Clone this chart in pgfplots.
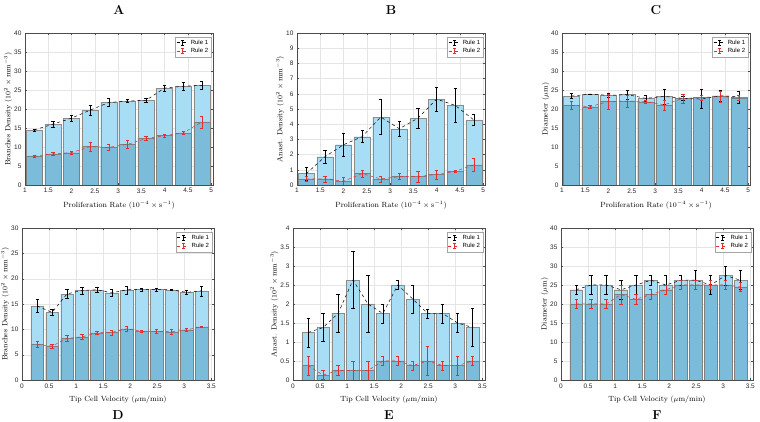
\documentclass[border=0pt]{standalone}
\usepackage{fontspec}
\usepackage{pgfplots}
\usepackage{pgfplotstable}
\pgfplotsset{compat=1.18}
\newfontfamily\ticksf{Liberation Sans}
\definecolor{barlight}{RGB}{168,222,245}
\definecolor{bardark}{RGB}{122,188,218}
\definecolor{ruletwo}{RGB}{228,45,45}

% x  r1  e1  r2  e2
\pgfplotstableread{
x   a     ea    b     eb
1.2 14.5  0.3   7.6   0.3
1.6 16.0  0.8   8.2   0.5
2.0 17.6  0.8   8.5   0.5
2.4 19.7  1.3   10.1  1.1
2.8 21.7  1.0   9.9   0.7
3.2 22.1  0.4   10.7  1.1
3.6 22.3  0.4   12.2  0.5
4.0 25.5  0.7   13.0  0.4
4.4 26.0  1.0   13.7  0.4
4.8 26.2  1.0   16.6  1.6
}\tA
\pgfplotstableread{
x   a     ea    b     eb
1.2 0.75  0.45  0.40  0.15
1.6 1.86  0.40  0.40  0.20
2.0 2.65  0.75  0.25  0.25
2.4 3.18  0.40  0.75  0.25
2.8 4.47  1.15  0.40  0.20
3.2 3.70  0.50  0.55  0.20
3.6 4.40  0.68  0.55  0.35
4.0 5.65  0.80  0.70  0.30
4.4 5.24  1.10  0.90  0.07
4.8 4.28  0.38  1.33  0.45
}\tB
\pgfplotstableread{
x   a     ea    b     eb
1.2 23.4  0.7   21.0  1.0
1.6 23.9  0.1   20.6  0.5
2.0 23.6  0.6   22.0  2.0
2.4 23.8  1.2   22.1  1.6
2.8 22.8  0.7   21.9  0.3
3.2 23.3  2.0   21.1  1.3
3.6 22.8  0.6   22.8  1.2
4.0 22.6  2.5   23.0  0.6
4.4 23.5  1.5   23.3  1.5
4.8 23.2  1.6   22.9  0.6
}\tC
\pgfplotstableread{
x     a     ea    b     eb
0.280 14.6  1.3   7.0   0.6
0.556 13.35 0.6   6.7   0.4
0.833 17.0  0.9   8.2   0.6
1.109 17.67 0.7   8.5   0.5
1.386 17.8  0.55  9.3   0.3
1.662 17.2  0.65  9.4   0.5
1.938 17.8  0.8   10.1  0.5
2.215 17.9  0.3   9.6   0.2
2.491 17.9  0.3   9.6   0.4
2.768 17.8  0.15  9.5   0.5
3.044 17.3  0.35  9.9   0.3
3.320 17.6  1.0   10.5  0.15
}\tD
\pgfplotstableread{
x     a     ea    b     eb
0.280 1.25  0.38  0.38  0.25
0.556 1.38  0.37  0.13  0.12
0.833 1.75  0.50  0.25  0.13
1.109 2.63  0.75  0.25  0.25
1.386 2.00  0.75  0.25  0.25
1.662 1.75  0.25  0.50  0.12
1.938 2.50  0.12  0.50  0.12
2.215 2.13  0.37  0.38  0.12
2.491 1.75  0.12  0.50  0.38
2.768 1.75  0.25  0.38  0.12
3.044 1.50  0.25  0.38  0.25
3.320 1.38  0.50  0.50  0.12
}\tE
\pgfplotstableread{
x     a     ea    b     eb
0.280 23.75 1.25  20.0  1.25
0.556 25.0  2.5   20.0  1.25
0.833 25.0  2.5   20.0  1.25
1.109 23.75 2.5   22.5  2.5
1.386 25.0  2.5   21.25 1.25
1.662 26.25 1.25  22.5  1.25
1.938 25.0  2.5   23.75 1.25
2.215 26.25 1.25  25.0  1.25
2.491 26.25 2.5   25.0  1.25
2.768 25.0  2.5   25.0  1.25
3.044 27.5  2.5   25.0  1.25
3.320 26.25 2.5   24.5  1.25
}\tF

\pgfplotsset{
  panel/.style={
    scale only axis, height=152pt, ymin=0,
    grid=major, major grid style={black!10, line width=0.3pt},
    tick align=inside, major tick length=2pt,
    tick style={black!70, line width=0.3pt},
    axis line style={black!70, line width=0.4pt},
    tick label style={font=\ticksf\fontsize{6.5}{7}\selectfont, black!85},
    /pgf/number format/assume math mode=true,
    label style={font=\fontsize{7.5}{8}\selectfont},
    xlabel style={yshift=-1pt},
    ylabel style={yshift=-5pt},
    legend style={at={(0.99,0.975)}, anchor=north east, draw=black!35,
      fill=white, inner sep=0.8pt, row sep=-1.5pt,
      font=\ticksf\fontsize{6}{6.5}\selectfont},
    legend cell align=left,
    legend image code/.code={
      \draw[##1] (0pt,0pt) -- (12pt,0pt);
      \draw[##1,solid] (6pt,-2.5pt) -- (6pt,2.5pt)
        (4.8pt,-2.5pt) -- (7.2pt,-2.5pt) (4.8pt,2.5pt) -- (7.2pt,2.5pt);
    },
  },
  toprow/.style={panel, xmin=1, xmax=5.04, width=188pt,
    xtick={1,1.5,2,2.5,3,3.5,4,4.5,5},
    xlabel={Proliferation Rate ($10^{-4}\times\mathrm{s}^{-1}$)},
    title style={at={(0.5,1)}, anchor=base, yshift=12pt,
      font=\bfseries\fontsize{13}{13}\selectfont}},
  botrow/.style={panel, xmin=0, xmax=3.55, width=192pt,
    xtick={0,0.5,1,1.5,2,2.5,3,3.5},
    xlabel={Tip Cell Velocity ($\mu$m/min)},
    title style={at={(0.5,0)}, anchor=base, yshift=-45.5pt,
      font=\bfseries\fontsize{13}{13}\selectfont}},
  barone/.style={ybar, bar shift=0pt, bar width=#1, fill=barlight,
    draw=black!45, line width=0.3pt, forget plot},
  bartwo/.style={ybar, bar shift=0pt, bar width=#1, fill=bardark,
    draw=black!50, line width=0.3pt, forget plot},
  lineone/.style={black, dashed, line width=0.5pt, mark=none,
    error bars/.cd, y dir=both, y explicit,
    error bar style={solid, line width=0.5pt, black},
    error mark options={rotate=90, mark size=1.6pt, solid, line width=0.5pt}},
  linetwo/.style={ruletwo, dashed, line width=0.5pt, mark=none,
    error bars/.cd, y dir=both, y explicit,
    error bar style={solid, line width=0.5pt, ruletwo},
    error mark options={rotate=90, mark size=1.6pt, solid, line width=0.5pt}},
}

\newcommand{\panelplots}[2]{%
  \addplot[barone=#2] table[x=x, y=a] {#1};
  \addplot[bartwo=#2] table[x=x, y=b] {#1};
  \addplot[lineone] table[x=x, y=a, y error=ea] {#1};
  \addplot[linetwo] table[x=x, y=b, y error=eb] {#1};
  \legend{Rule 1, Rule 2}
}

\begin{document}
\begin{tikzpicture}[x=1pt, y=1pt]
\useasboundingbox (0,0) rectangle (760,422);

\begin{axis}[toprow, at={(25pt,237pt)}, anchor=south west,
  ymax=40, ytick={0,5,...,40}, title={A},
  ylabel={Branches Density ($10^2\times\mathrm{mm}^{-3}$)}]
  \panelplots{\tA}{0.345}
\end{axis}

\begin{axis}[toprow, at={(297pt,237pt)}, anchor=south west,
  ymax=10, ytick={0,1,...,10}, title={B},
  ylabel={Anast. Density ($10^2\times\mathrm{mm}^{-3}$)}]
  \panelplots{\tB}{0.345}
\end{axis}

\begin{axis}[toprow, at={(562pt,237pt)}, anchor=south west,
  ymax=40, ytick={0,5,...,40}, title={C},
  ylabel={Diameter ($\mu$m)}]
  \panelplots{\tC}{0.345}
\end{axis}

\begin{axis}[botrow, at={(22pt,42pt)}, anchor=south west,
  ymax=30, ytick={0,5,...,30}, title={D},
  ylabel={Branches Density ($10^2\times\mathrm{mm}^{-3}$)}]
  \panelplots{\tD}{0.236}
\end{axis}

\begin{axis}[botrow, at={(293pt,42pt)}, anchor=south west,
  ymax=4, ytick={0,0.5,...,4}, title={E},
  ylabel={Anast. Density ($10^2\times\mathrm{mm}^{-3}$)}]
  \panelplots{\tE}{0.236}
\end{axis}

\begin{axis}[botrow, at={(561pt,42pt)}, anchor=south west,
  ymax=40, ytick={0,5,...,40}, title={F},
  ylabel={Diameter ($\mu$m)}]
  \panelplots{\tF}{0.236}
\end{axis}
\end{tikzpicture}
\end{document}
